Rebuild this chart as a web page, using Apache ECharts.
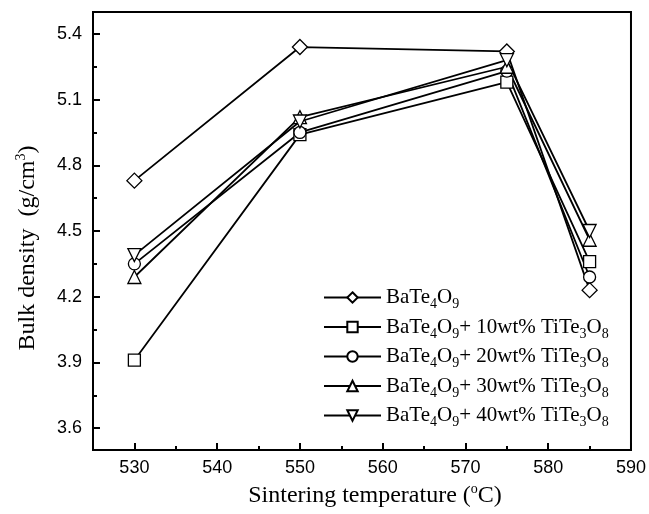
<!DOCTYPE html>
<html>
<head>
<meta charset="utf-8">
<script src="https://cdn.jsdelivr.net/npm/echarts@6/dist/echarts.min.js"></script>
<style>
  html, body { margin: 0; padding: 0; background: #fff; }
  #chart { width: 649px; height: 514px; }
</style>
</head>
<body>
<div id="chart"></div>
<script>
// Sintering temperatures (°C)
const temperatures = [530, 550, 575, 585];

// Bulk density (g/cm3) for each composition
const bate4o9 = [4.73, 5.34, 5.32, 4.23];
const tite10 = [3.91, 4.94, 5.18, 4.36];
const tite20 = [4.35, 4.95, 5.23, 4.29];
const tite30 = [4.29, 5.02, 5.25, 4.46];
const tite40 = [4.39, 5.00, 5.28, 4.50];

const seriesNames = [
  'BaTe4O9',
  'BaTe4O9+ 10wt% TiTe3O8',
  'BaTe4O9+ 20wt% TiTe3O8',
  'BaTe4O9+ 30wt% TiTe3O8',
  'BaTe4O9+ 40wt% TiTe3O8'
];

// Rich-text versions of the legend names, with chemical subscripts
const legendLabels = {
  'BaTe4O9': '{m|BaTe}{s|4}{m|O}{s|9}',
  'BaTe4O9+ 10wt% TiTe3O8': '{m|BaTe}{s|4}{m|O}{s|9}{m|+ 10wt% TiTe}{s|3}{m|O}{s|8}',
  'BaTe4O9+ 20wt% TiTe3O8': '{m|BaTe}{s|4}{m|O}{s|9}{m|+ 20wt% TiTe}{s|3}{m|O}{s|8}',
  'BaTe4O9+ 30wt% TiTe3O8': '{m|BaTe}{s|4}{m|O}{s|9}{m|+ 30wt% TiTe}{s|3}{m|O}{s|8}',
  'BaTe4O9+ 40wt% TiTe3O8': '{m|BaTe}{s|4}{m|O}{s|9}{m|+ 40wt% TiTe}{s|3}{m|O}{s|8}'
};

const serif = '"Liberation Serif", "Times New Roman", serif';
const sans = '"Liberation Sans", Arial, sans-serif';

function pairs(values) {
  return temperatures.map((t, i) => [t, values[i]]);
}

function makeSeries(name, values, symbol, size, rotate) {
  return {
    name: name,
    type: 'line',
    data: pairs(values),
    symbol: symbol,
    symbolSize: size,
    symbolRotate: rotate || 0,
    showAllSymbol: true,
    lineStyle: { color: '#000', width: 1.8 },
    itemStyle: { color: '#fff', borderColor: '#000', borderWidth: 1.3 },
    emphasis: { disabled: true },
    animation: false
  };
}

const chart = echarts.init(document.getElementById('chart'), null, { renderer: 'canvas' });

chart.setOption({
  backgroundColor: '#fff',
  animation: false,
  grid: {
    left: 93, right: 16, top: 12, bottom: 64,
    show: true, borderColor: '#000', borderWidth: 2, backgroundColor: 'transparent'
  },
  legend: {
    orient: 'vertical',
    left: 323,
    top: 287,
    padding: 0,
    itemWidth: 57,
    itemHeight: 13,
    itemGap: 5,
    data: seriesNames,
    formatter: name => legendLabels[name],
    textStyle: {
      color: '#000',
      rich: {
        m: { fontFamily: serif, fontSize: 21, color: '#000', lineHeight: 28, verticalAlign: 'middle' },
        s: { fontFamily: serif, fontSize: 14, color: '#000', verticalAlign: 'bottom' }
      }
    },
    selectedMode: false
  },
  xAxis: {
    type: 'value',
    min: 525,
    max: 590,
    minInterval: 10,
    maxInterval: 10,
    name: '{m|Sintering temperature (}{p|o}{m|C)}',
    nameLocation: 'middle',
    nameGap: 31,
    nameTextStyle: {
      padding: [0, 0, 0, 26],
      rich: {
        m: { fontFamily: serif, fontSize: 24, color: '#000', lineHeight: 28, verticalAlign: 'middle' },
        p: { fontFamily: serif, fontSize: 14, color: '#000', verticalAlign: 'top' }
      }
    },
    axisLine: { lineStyle: { color: '#000', width: 2 } },
    axisTick: { inside: true, length: 7, lineStyle: { color: '#000', width: 2 } },
    minorTick: { show: true, splitNumber: 2, length: 4, lineStyle: { color: '#000', width: 2 } },
    axisLabel: {
      color: '#000', fontFamily: sans, fontSize: 18, margin: 9,
      formatter: v => (Math.abs(v % 10) < 1e-6 ? String(v) : '')
    },
    splitLine: { show: false },
    minorSplitLine: { show: false }
  },
  yAxis: {
    type: 'value',
    min: 3.5,
    max: 5.5,
    minInterval: 0.3,
    maxInterval: 0.3,
    name: '{m|Bulk density  (g/cm}{p|3}{m|)}',
    nameLocation: 'middle',
    nameGap: 51,
    nameRotate: 90,
    nameTextStyle: {
      padding: [0, 34, 0, 0],
      rich: {
        m: { fontFamily: serif, fontSize: 24, color: '#000', lineHeight: 28, verticalAlign: 'middle' },
        p: { fontFamily: serif, fontSize: 14, color: '#000', verticalAlign: 'top' }
      }
    },
    axisLine: { lineStyle: { color: '#000', width: 2 } },
    axisTick: { inside: true, length: 7, lineStyle: { color: '#000', width: 2 } },
    minorTick: { show: true, splitNumber: 2, length: 4, lineStyle: { color: '#000', width: 2 } },
    axisLabel: {
      color: '#000', fontFamily: sans, fontSize: 18, margin: 11,
      showMinLabel: false, showMaxLabel: false,
      formatter: v => v.toFixed(1)
    },
    splitLine: { show: false },
    minorSplitLine: { show: false }
  },
  series: [
    makeSeries(seriesNames[0], bate4o9, 'diamond', 15),
    makeSeries(seriesNames[1], tite10, 'rect', 12),
    makeSeries(seriesNames[2], tite20, 'circle', 12),
    makeSeries(seriesNames[3], tite30, 'triangle', 13),
    makeSeries(seriesNames[4], tite40, 'triangle', 13, 180)
  ]
});
</script>
</body>
</html>
